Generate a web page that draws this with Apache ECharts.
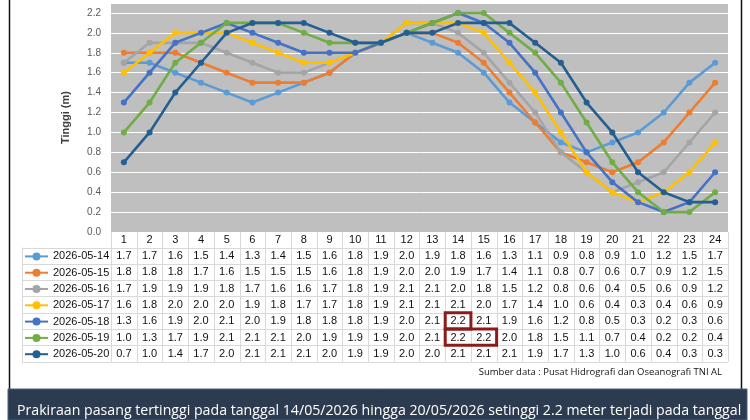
<html>
<head>
<meta charset="utf-8">
<script src="https://cdn.jsdelivr.net/npm/echarts@6/dist/echarts.min.js"></script>
<style>
    body { margin: 0; background: #fff; }
    #main { width: 750px; height: 420px; }
</style>
</head>
<body>
<div id="main"></div>
<script>
    // jam ke-1 .. ke-24
    var hours = ['1', '2', '3', '4', '5', '6', '7', '8', '9', '10', '11', '12',
        '13', '14', '15', '16', '17', '18', '19', '20', '21', '22', '23', '24'];
    var dates = ['2026-05-14', '2026-05-15', '2026-05-16', '2026-05-17',
        '2026-05-18', '2026-05-19', '2026-05-20'];
    var colors = ['#5b9bd5', '#ed7d31', '#a5a5a5', '#ffc000', '#4472c4', '#70ad47', '#255e91'];

    var tide0514 = [1.7, 1.7, 1.6, 1.5, 1.4, 1.3, 1.4, 1.5, 1.6, 1.8, 1.9, 2.0, 1.9, 1.8, 1.6, 1.3, 1.1, 0.9, 0.8, 0.9, 1.0, 1.2, 1.5, 1.7];
    var tide0515 = [1.8, 1.8, 1.8, 1.7, 1.6, 1.5, 1.5, 1.5, 1.6, 1.8, 1.9, 2.0, 2.0, 1.9, 1.7, 1.4, 1.1, 0.8, 0.7, 0.6, 0.7, 0.9, 1.2, 1.5];
    var tide0516 = [1.7, 1.9, 1.9, 1.9, 1.8, 1.7, 1.6, 1.6, 1.7, 1.8, 1.9, 2.1, 2.1, 2.0, 1.8, 1.5, 1.2, 0.8, 0.6, 0.4, 0.5, 0.6, 0.9, 1.2];
    var tide0517 = [1.6, 1.8, 2.0, 2.0, 2.0, 1.9, 1.8, 1.7, 1.7, 1.8, 1.9, 2.1, 2.1, 2.1, 2.0, 1.7, 1.4, 1.0, 0.6, 0.4, 0.3, 0.4, 0.6, 0.9];
    var tide0518 = [1.3, 1.6, 1.9, 2.0, 2.1, 2.0, 1.9, 1.8, 1.8, 1.8, 1.9, 2.0, 2.1, 2.2, 2.1, 1.9, 1.6, 1.2, 0.8, 0.5, 0.3, 0.2, 0.3, 0.6];
    var tide0519 = [1.0, 1.3, 1.7, 1.9, 2.1, 2.1, 2.1, 2.0, 1.9, 1.9, 1.9, 2.0, 2.1, 2.2, 2.2, 2.0, 1.8, 1.5, 1.1, 0.7, 0.4, 0.2, 0.2, 0.4];
    var tide0520 = [0.7, 1.0, 1.4, 1.7, 2.0, 2.1, 2.1, 2.1, 2.0, 1.9, 1.9, 2.0, 2.0, 2.1, 2.1, 2.1, 1.9, 1.7, 1.3, 1.0, 0.6, 0.4, 0.3, 0.3];
    var tides = [tide0514, tide0515, tide0516, tide0517, tide0518, tide0519, tide0520];

    // sel yang ditandai merah: [baris, kolom awal, kolom akhir]
    var highlights = [[4, 13, 13], [5, 13, 14]];

    var sourceText = 'Sumber data : Pusat Hidrografi dan Oseanografi TNI AL';
    var noteText = 'Prakiraan pasang tertinggi pada tanggal 14/05/2026 hingga 20/05/2026 setinggi 2.2 meter terjadi pada tanggal';

    var TABLE_TOP = 232;
    var HEAD_H = 15.5;
    var ROW_H = 16.3;
    var LEGEND_LEFT = 22;

    var chart = echarts.init(document.getElementById('main'), null, {renderer: 'canvas'});

    chart.setOption({
        animation: false,
        textStyle: {fontFamily: 'Liberation Sans'},
        grid: {
            left: 111, right: 22, top: 3, bottom: 420 - TABLE_TOP,
            show: true, backgroundColor: '#bfbfbf', borderWidth: 0
        },
        legend: {
            orient: 'vertical',
            left: 19,
            top: TABLE_TOP + HEAD_H - 1.6,
            itemWidth: 23,
            itemHeight: 10,
            itemGap: 5.3,
            textStyle: {fontSize: 11, color: '#111'},
            data: dates
        },
        xAxis: {
            type: 'category',
            data: hours,
            boundaryGap: true,
            axisLine: {show: false},
            axisTick: {show: false},
            axisLabel: {fontSize: 11, color: '#111', margin: 2}
        },
        yAxis: {
            type: 'value',
            min: 0,
            max: 2.3,
            interval: 0.2,
            name: 'Tinggi (m)',
            nameLocation: 'middle',
            nameGap: 40,
            nameTextStyle: {fontSize: 11, fontWeight: 'bold', color: '#404040'},
            axisLine: {show: false},
            axisTick: {show: false},
            axisLabel: {
                fontSize: 10, color: '#595959', margin: 10, showMaxLabel: false,
                formatter: function (v) { return v.toFixed(1); }
            },
            splitLine: {lineStyle: {color: '#ffffff', width: 1}}
        },
        series: tides.map(function (d, i) {
            return {
                name: dates[i],
                type: 'line',
                data: d,
                color: colors[i],
                symbol: 'circle',
                symbolSize: 6,
                lineStyle: {width: 2.6},
                z: 2 + i
            };
        })
    });

    // ukuran huruf teks bawah disesuaikan agar selebar pita (~725px)
    function fitFont(text, family, size, width) {
        var ctx = document.createElement('canvas').getContext('2d');
        ctx.font = size + 'px ' + family;
        var w = ctx.measureText(text).width;
        return Math.min(size, size * width / w);
    }

    function buildTable() {
        var x0 = chart.convertToPixel({xAxisIndex: 0}, 0);
        var x1 = chart.convertToPixel({xAxisIndex: 0}, 1);
        var colW = x1 - x0;
        var gridLeft = x0 - colW / 2;
        var gridRight = gridLeft + colW * hours.length;
        var rowsTop = TABLE_TOP + HEAD_H;
        var tableBottom = rowsTop + ROW_H * dates.length;
        var els = [];
        var lineStyle = {stroke: '#d9d9d9', lineWidth: 1};

        // garis vertikal
        for (var c = 0; c <= hours.length; c++) {
            var x = Math.round(gridLeft + c * colW) + 0.5;
            els.push({type: 'line', shape: {x1: x, y1: TABLE_TOP, x2: x, y2: tableBottom}, style: lineStyle, silent: true});
        }
        els.push({type: 'line', shape: {x1: LEGEND_LEFT + 0.5, y1: rowsTop, x2: LEGEND_LEFT + 0.5, y2: tableBottom}, style: lineStyle, silent: true});
        // garis horizontal
        for (var r = 0; r <= dates.length; r++) {
            var y = Math.round(rowsTop + r * ROW_H) + 0.5;
            els.push({type: 'line', shape: {x1: LEGEND_LEFT, y1: y, x2: gridRight, y2: y}, style: lineStyle, silent: true});
        }
        // nilai
        tides.forEach(function (row, ri) {
            row.forEach(function (v, ci) {
                els.push({
                    type: 'text', silent: true,
                    x: chart.convertToPixel({xAxisIndex: 0}, ci),
                    y: rowsTop + ri * ROW_H + ROW_H / 2 + 0.5,
                    style: {
                        text: v.toFixed(1), fill: '#111', font: '11px "Liberation Sans"',
                        align: 'center', verticalAlign: 'middle'
                    }
                });
            });
        });
        // kotak merah
        highlights.forEach(function (h) {
            els.push({
                type: 'rect', silent: true, z: 20,
                shape: {
                    x: gridLeft + h[1] * colW, y: rowsTop + h[0] * ROW_H,
                    width: (h[2] - h[1] + 1) * colW, height: ROW_H
                },
                style: {fill: null, stroke: '#8e1b1b', lineWidth: 3}
            });
        });
        // bingkai
        els.push({type: 'line', shape: {x1: 9.5, y1: 0, x2: 9.5, y2: 389}, style: {stroke: '#111', lineWidth: 1.5}, silent: true});
        els.push({type: 'line', shape: {x1: 741.5, y1: 0, x2: 741.5, y2: 389}, style: {stroke: '#111', lineWidth: 1.5}, silent: true});
        els.push({
            type: 'text', silent: true, x: 722, y: 372,
            style: {text: sourceText, fill: '#111', font: '9.5px "Open Sans"', align: 'right', verticalAlign: 'middle'}
        });
        els.push({
            type: 'rect', silent: true, z: 30,
            shape: {x: 8, y: 389, width: 739, height: 31},
            style: {fill: '#2c3b4f', stroke: '#4a6280', lineWidth: 1}
        });
        var noteSize = fitFont(noteText, '"Open Sans"', 15, 725);
        els.push({
            type: 'text', silent: true, z: 31, x: 17, y: 411,
            style: {text: noteText, fill: '#ffffff', font: noteSize.toFixed(2) + 'px "Open Sans"', verticalAlign: 'middle'}
        });

        chart.setOption({graphic: {elements: els}});
    }

    buildTable();
</script>
</body>
</html>
